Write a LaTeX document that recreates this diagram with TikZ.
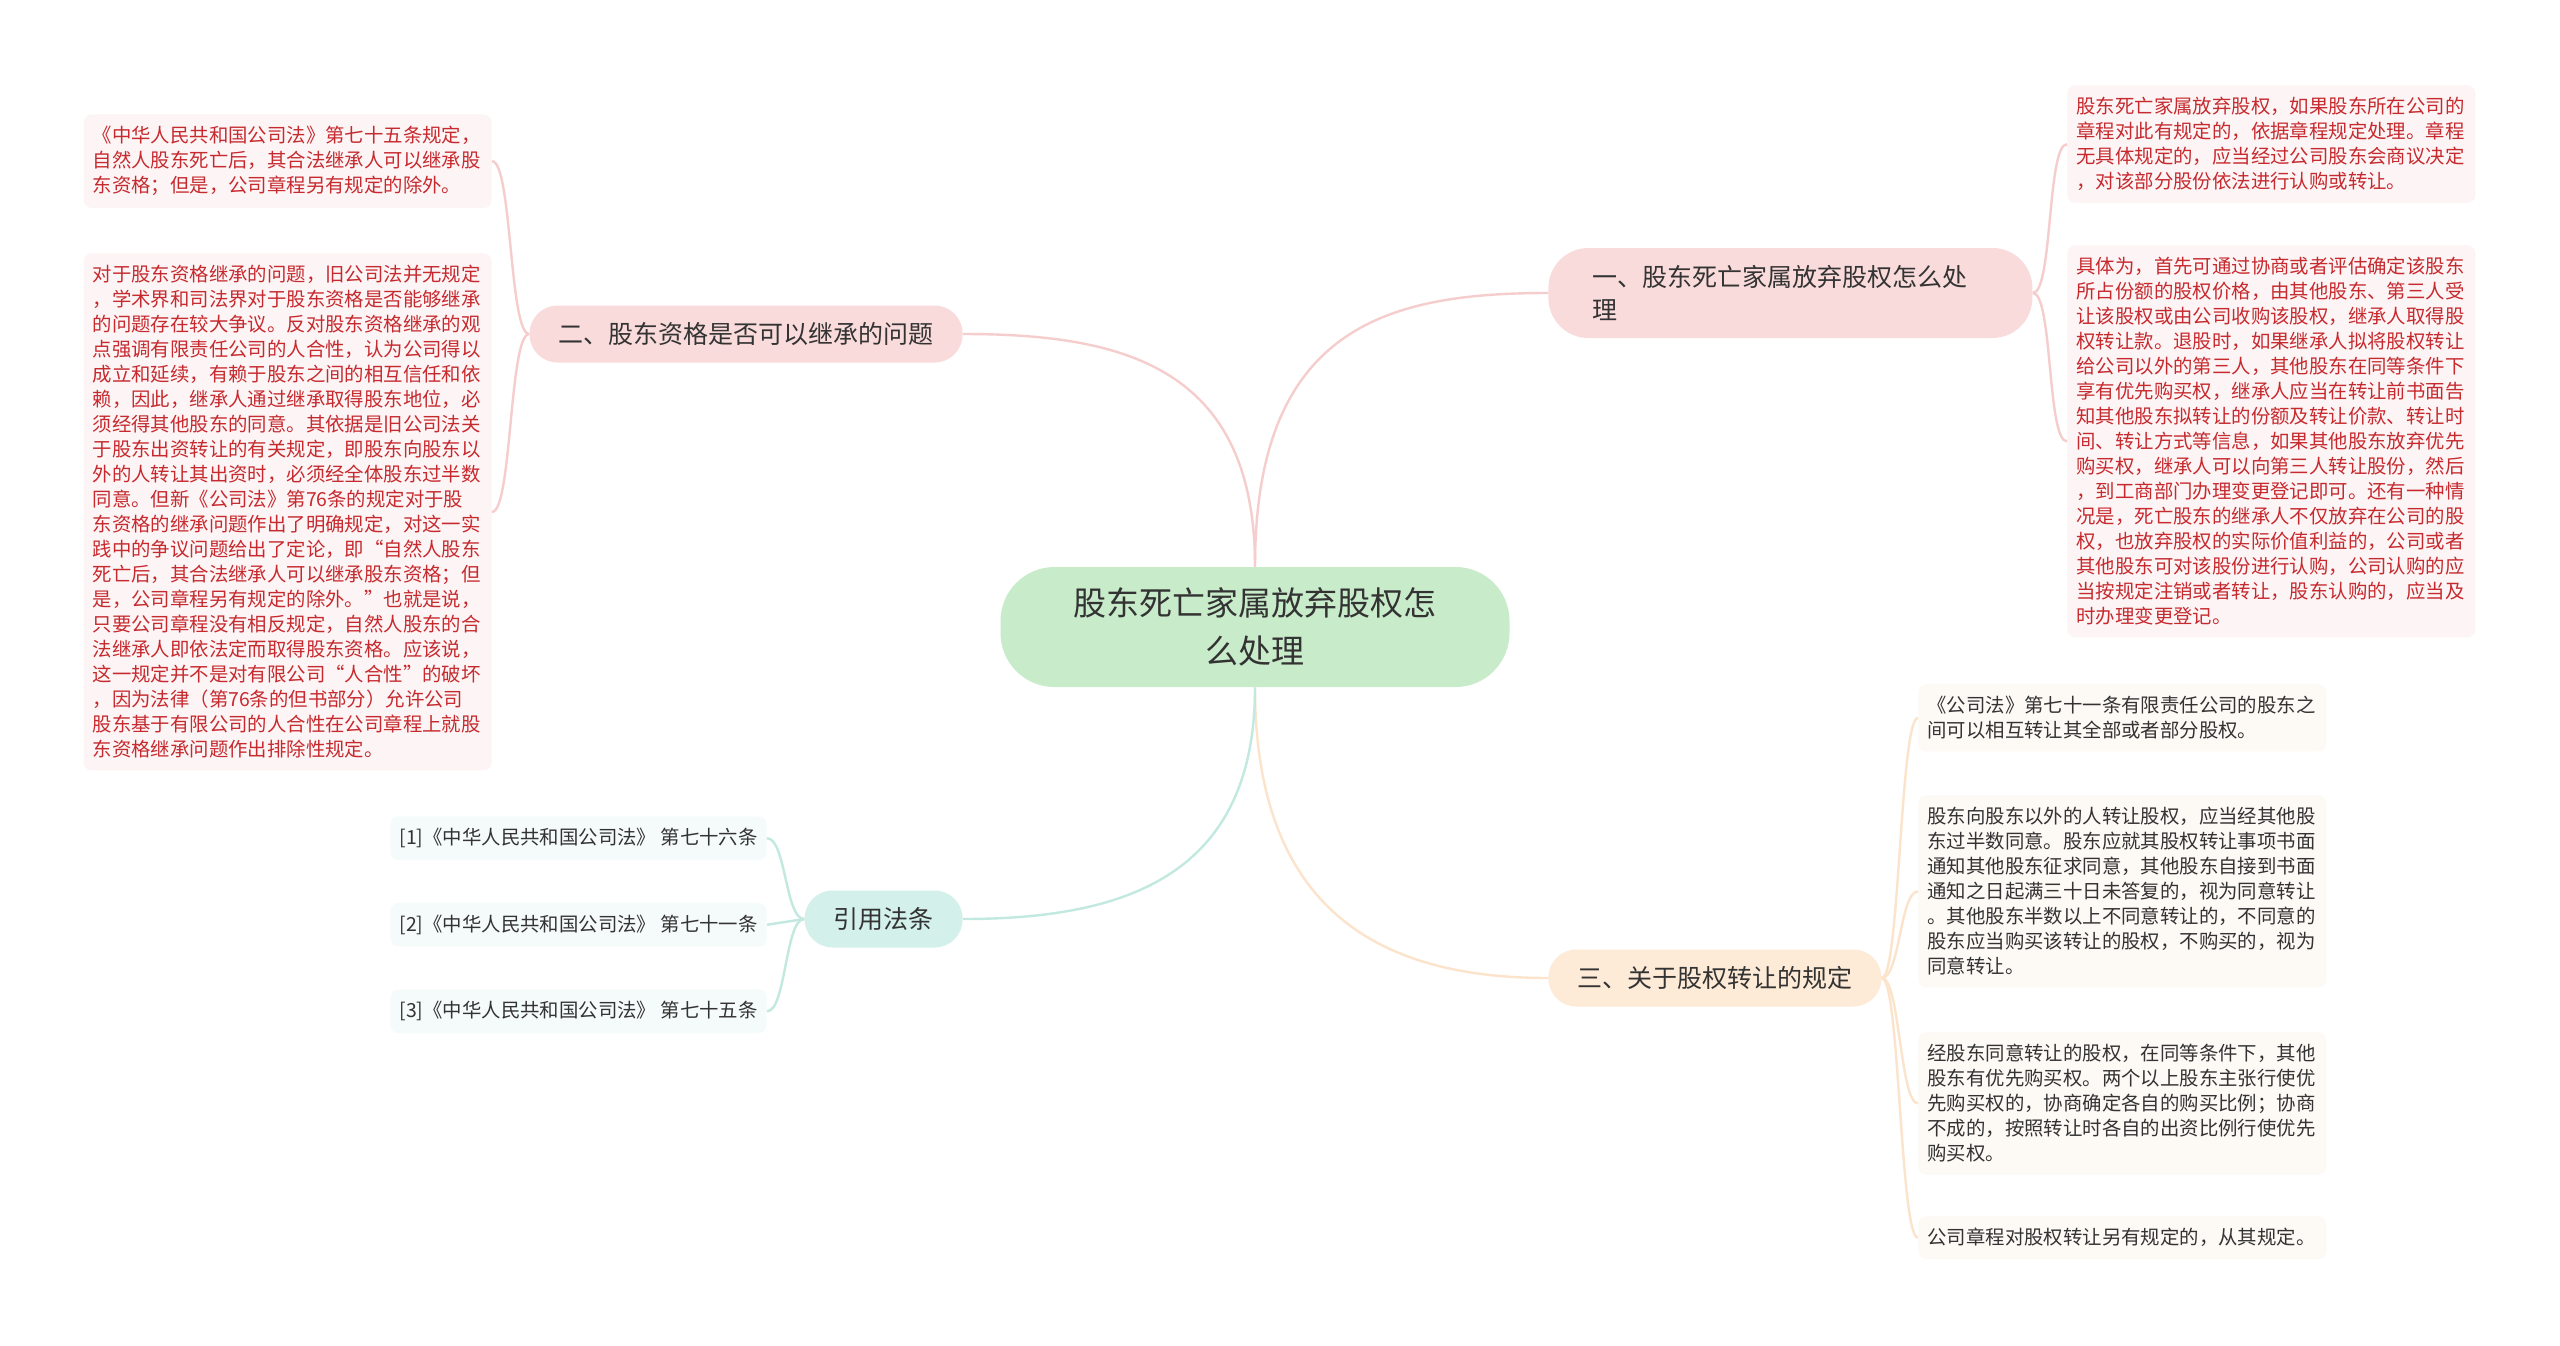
\documentclass[tikz,border=0pt]{standalone}
\usepackage{fontspec}
\setmainfont{Noto Sans CJK SC}
\usepackage{xcolor}
\usetikzlibrary{positioning}
\definecolor{rootfill}{HTML}{C8EBCA}
\definecolor{pinkfill}{HTML}{FADBDB}
\definecolor{peachfill}{HTML}{FDEAD7}
\definecolor{mintfill}{HTML}{D3F0EA}
\definecolor{pinkline}{HTML}{F6CDCD}
\definecolor{peachline}{HTML}{FBE4CB}
\definecolor{mintline}{HTML}{C2E9E0}
\definecolor{redtext}{HTML}{C62A2F}
\definecolor{darktext}{HTML}{333333}
\definecolor{pinkleaf}{HTML}{FDF5F5}
\definecolor{peachleaf}{HTML}{FDF9F5}
\definecolor{mintleaf}{HTML}{F5FBFA}

\begin{document}
\begin{tikzpicture}[
    x=0.5pt, y=-0.5pt,
    root/.style={fill=rootfill, rounded corners=27pt, minimum width=254.5pt, minimum height=60pt, align=center, text=darktext, font=\fontsize{16.5}{24}\selectfont},
    topic/.style={rounded corners=14pt, inner xsep=14.5pt, minimum height=28.5pt, text=darktext, font=\fontsize{12.5}{16.5}\selectfont},
    leaf/.style={rounded corners=4pt, inner xsep=4.5pt, inner ysep=6pt, font=\fontsize{9.7}{12.5}\selectfont},
    note/.style={leaf, text width=195pt, align=left},
    pinkl/.style={draw=pinkline, line width=1.2pt},
    peachl/.style={draw=peachline, line width=1.2pt},
    mintl/.style={draw=mintline, line width=1.2pt}
]
\fill[white] (0,0) rectangle (2560,1345);
\useasboundingbox (0,0) rectangle (2560,1345);

\node[root] (root) at (1255,627) {股东死亡家属放弃股权怎\\么处理};

\node[topic, fill=pinkfill, anchor=west, text width=198pt, align=left, inner xsep=22pt, minimum height=45pt, rounded corners=20pt] (refuse) at (1548,293) {一、股东死亡家属放弃股权怎么处\\理};
\node[topic, fill=pinkfill, anchor=east] (heir_q) at (963,334) {二、股东资格是否可以继承的问题};
\node[topic, fill=peachfill, anchor=west] (transfer) at (1548,978) {三、关于股权转让的规定};
\node[topic, fill=mintfill, anchor=east] (law_refs) at (963,919) {引用法条};

\node[note, fill=pinkleaf, text=redtext, anchor=north east] (art75_note) at (492,114) {《中华人民共和国公司法》第七十五条规定，\\自然人股东死亡后，其合法继承人可以继承股\\东资格；但是，公司章程另有规定的除外。};
\node[note, fill=pinkleaf, text=redtext, anchor=north east] (heir_debate) at (492,253) {对于股东资格继承的问题，旧公司法并无规定\\，学术界和司法界对于股东资格是否能够继承\\的问题存在较大争议。反对股东资格继承的观\\点强调有限责任公司的人合性，认为公司得以\\成立和延续，有赖于股东之间的相互信任和依\\赖，因此，继承人通过继承取得股东地位，必\\须经得其他股东的同意。其依据是旧公司法关\\于股东出资转让的有关规定，即股东向股东以\\外的人转让其出资时，必须经全体股东过半数\\同意。但新《公司法》第76条的规定对于股\\东资格的继承问题作出了明确规定，对这一实\\践中的争议问题给出了定论，即“自然人股东\\死亡后，其合法继承人可以继承股东资格；但\\是，公司章程另有规定的除外。”也就是说，\\只要公司章程没有相反规定，自然人股东的合\\法继承人即依法定而取得股东资格。应该说，\\这一规定并不是对有限公司“人合性”的破坏\\，因为法律（第76条的但书部分）允许公司\\股东基于有限公司的人合性在公司章程上就股\\东资格继承问题作出排除性规定。};

\node[note, fill=pinkleaf, text=redtext, anchor=north west] (charter_rule) at (2067,85) {股东死亡家属放弃股权，如果股东所在公司的\\章程对此有规定的，依据章程规定处理。章程\\无具体规定的，应当经过公司股东会商议决定\\，对该部分股份依法进行认购或转让。};
\node[note, fill=pinkleaf, text=redtext, anchor=north west] (buyout_steps) at (2067,245) {具体为，首先可通过协商或者评估确定该股东\\所占份额的股权价格，由其他股东、第三人受\\让该股权或由公司收购该股权，继承人取得股\\权转让款。退股时，如果继承人拟将股权转让\\给公司以外的第三人，其他股东在同等条件下\\享有优先购买权，继承人应当在转让前书面告\\知其他股东拟转让的份额及转让价款、转让时\\间、转让方式等信息，如果其他股东放弃优先\\购买权，继承人可以向第三人转让股份，然后\\，到工商部门办理变更登记即可。还有一种情\\况是，死亡股东的继承人不仅放弃在公司的股\\权，也放弃股权的实际价值利益的，公司或者\\其他股东可对该股份进行认购，公司认购的应\\当按规定注销或者转让，股东认购的，应当及\\时办理变更登记。};

\node[note, fill=peachleaf, text=darktext, anchor=north west] (art71_note) at (1918,684) {《公司法》第七十一条有限责任公司的股东之\\间可以相互转让其全部或者部分股权。};
\node[note, fill=peachleaf, text=darktext, anchor=north west] (outsider_sale) at (1918,795) {股东向股东以外的人转让股权，应当经其他股\\东过半数同意。股东应就其股权转让事项书面\\通知其他股东征求同意，其他股东自接到书面\\通知之日起满三十日未答复的，视为同意转让\\。其他股东半数以上不同意转让的，不同意的\\股东应当购买该转让的股权，不购买的，视为\\同意转让。};
\node[note, fill=peachleaf, text=darktext, anchor=north west] (preempt_right) at (1918,1032) {经股东同意转让的股权，在同等条件下，其他\\股东有优先购买权。两个以上股东主张行使优\\先购买权的，协商确定各自的购买比例；协商\\不成的，按照转让时各自的出资比例行使优先\\购买权。};
\node[note, fill=peachleaf, text=darktext, anchor=north west] (charter_other) at (1918,1216) {公司章程对股权转让另有规定的，从其规定。};

\node[leaf, fill=mintleaf, text=darktext, anchor=north east] (ref1) at (767,816) {[1]《中华人民共和国公司法》 第七十六条};
\node[leaf, fill=mintleaf, text=darktext, below=21pt of ref1] (ref2) {[2]《中华人民共和国公司法》 第七十一条};
\node[leaf, fill=mintleaf, text=darktext, below=21pt of ref2] (ref3) {[3]《中华人民共和国公司法》 第七十五条};

\draw[pinkl] (root.north) .. controls +(0,-240) and +(-160,0) .. (refuse.west);
\draw[pinkl] (root.north) .. controls +(0,-200) and +(160,0) .. (heir_q.east);
\draw[peachl] (root.south) .. controls +(0,230) and +(-160,0) .. (transfer.west);
\draw[mintl] (root.south) .. controls +(0,190) and +(160,0) .. (law_refs.east);

\draw[pinkl] (heir_q.west) .. controls +(-20,0) and +(20,0) .. (art75_note.east);
\draw[pinkl] (heir_q.west) .. controls +(-20,0) and +(20,0) .. (heir_debate.east);

\draw[pinkl] (refuse.east) .. controls +(20,0) and +(-20,0) .. (charter_rule.west);
\draw[pinkl] (refuse.east) .. controls +(20,0) and +(-20,0) .. (buyout_steps.west);

\draw[peachl] (transfer.east) .. controls +(18,0) and +(-18,0) .. (art71_note.west);
\draw[peachl] (transfer.east) .. controls +(18,0) and +(-18,0) .. (outsider_sale.west);
\draw[peachl] (transfer.east) .. controls +(18,0) and +(-18,0) .. (preempt_right.west);
\draw[peachl] (transfer.east) .. controls +(18,0) and +(-18,0) .. (charter_other.west);

\draw[mintl] (law_refs.west) .. controls +(-19,0) and +(19,0) .. (ref1.east);
\draw[mintl] (law_refs.west) -- (ref2.east);
\draw[mintl] (law_refs.west) .. controls +(-19,0) and +(19,0) .. (ref3.east);

\end{tikzpicture}
\end{document}
